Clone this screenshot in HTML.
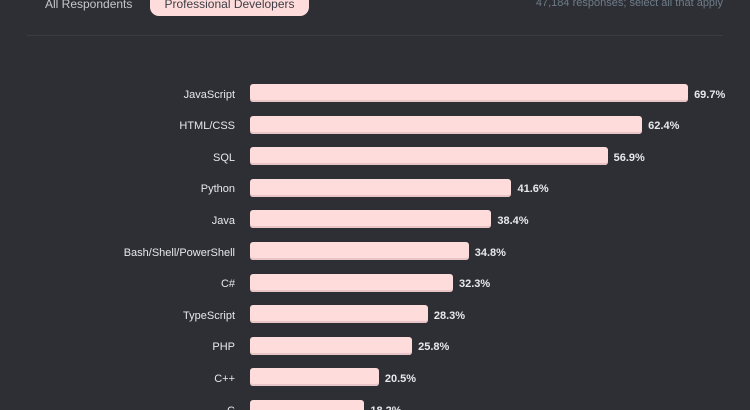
<!DOCTYPE html>
<html><head><meta charset="utf-8"><style>
html,body{margin:0;width:750px;height:410px;overflow:hidden}
body{background:#2d2f34;font-family:"Liberation Sans",sans-serif;position:relative}
.t{position:absolute;white-space:nowrap}
.lab{position:absolute;right:515px;font-size:11px;color:#e6e8ea;transform:translateY(-50%)}
.bar{position:absolute;left:250px;height:18px;background:#ffdcdc;border-radius:3px;box-shadow:inset 0 -2px 0 #e9c4c6}
.val{position:absolute;font-size:11px;font-weight:bold;color:#e6e8ea;transform:translateY(-50%)}
</style></head><body>
<div class="t" style="left:45px;top:-3px;font-size:12px;color:#c4c8cc">All Respondents</div>
<div style="position:absolute;left:150px;top:-10px;width:159px;height:26px;background:#ffdcdc;border-radius:9px"></div>
<div class="t" style="left:150px;width:159px;text-align:center;top:-3px;font-size:12px;color:#3b3e44">Professional Developers</div>
<div class="t" style="right:27px;top:-3px;font-size:11px;color:#6e7c88">47,184 responses; select all that apply</div>
<div style="position:absolute;left:27px;width:696px;top:35px;height:1px;background:#3a3c42"></div>
<div id="c"></div>
<script>
var d=[["JavaScript",69.7],["HTML/CSS",62.4],["SQL",56.9],["Python",41.6],["Java",38.4],["Bash/Shell/PowerShell",34.8],["C#",32.3],["TypeScript",28.3],["PHP",25.8],["C++",20.5],["C",18.2]];
var h="";
d.forEach(function(r,i){var c=93+i*31.6;var w=r[1]*6.285;
h+='<div class="lab" style="top:'+(c+1.5)+'px">'+r[0]+'</div>';
h+='<div class="bar" style="top:'+(c-9)+'px;width:'+w+'px"></div>';
h+='<div class="val" style="top:'+(c+1.5)+'px;left:'+(250+w+6)+'px">'+r[1].toFixed(1)+'%</div>';});
document.getElementById("c").innerHTML=h;
</script>
</body></html>
